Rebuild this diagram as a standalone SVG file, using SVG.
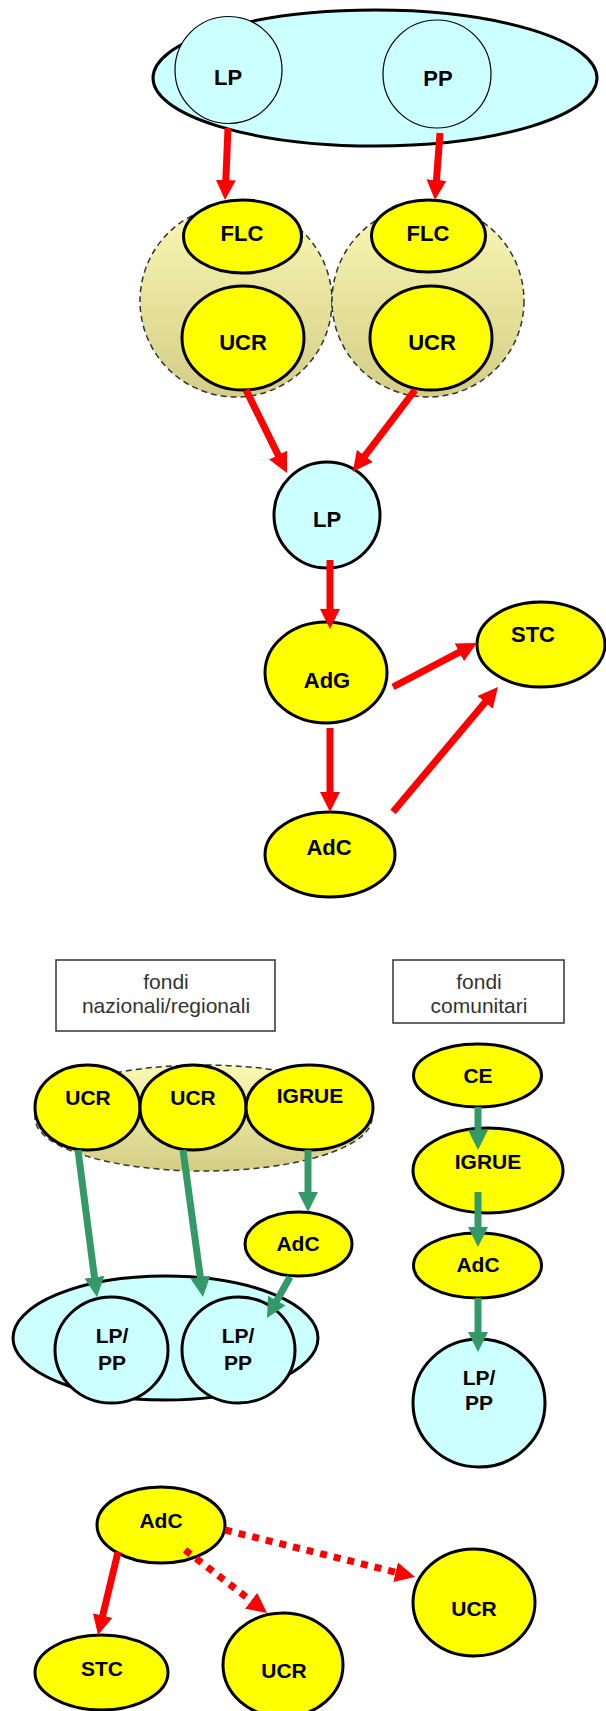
<svg xmlns="http://www.w3.org/2000/svg" width="606" height="1711" viewBox="0 0 606 1711">
<defs>
<linearGradient id="grp" x1="0" y1="0" x2="0" y2="1">
<stop offset="0" stop-color="#FAF8B4"/>
<stop offset="1" stop-color="#D3CD86"/>
</linearGradient>
<marker id="hr" markerUnits="userSpaceOnUse" markerWidth="22" markerHeight="22" viewBox="0 -11 22 22" refX="4" refY="0" orient="auto">
<path d="M0,-10 L20,0 L0,10 z" fill="#FF0000"/>
</marker>
<marker id="hg" markerUnits="userSpaceOnUse" markerWidth="22" markerHeight="22" viewBox="0 -11 22 22" refX="4" refY="0" orient="auto">
<path d="M0,-10 L20,0 L0,10 z" fill="#339966"/>
</marker>
</defs>
<style>
.y{fill:#FFFF00;stroke:#000;stroke-width:3}
.c{fill:#CCFFFF;stroke:#000;stroke-width:3}
.ct{fill:#CCFFFF;stroke:#000;stroke-width:1.2}
.g{fill:url(#grp);stroke:#333;stroke-width:1.5;stroke-dasharray:6 4}
.box{fill:#fff;stroke:#333;stroke-width:1.5}
.t{font-family:"Liberation Sans",Arial,sans-serif;font-weight:bold;font-size:22px;fill:#000;text-anchor:middle;dominant-baseline:central}
.s{font-size:21px}
.bt{font-family:"Liberation Sans",Arial,sans-serif;font-size:21px;fill:#333;text-anchor:middle}
.r{stroke:#FF0000;stroke-width:7;fill:none;marker-end:url(#hr)}
.rd{stroke:#FF0000;stroke-width:7;fill:none;stroke-dasharray:7 7;marker-end:url(#hr)}
.gr{stroke:#339966;stroke-width:7;fill:none;marker-end:url(#hg)}
</style>

<g id="top-group">
<ellipse cx="375" cy="78" rx="222" ry="68" class="c"/>
</g>
<g id="top-LP">
<circle cx="228.5" cy="70" r="53.5" class="ct"/>
<text x="228" y="77" class="t">LP</text>
</g>
<g id="top-PP">
<circle cx="437" cy="74" r="54" class="ct"/>
<text x="438" y="78" class="t">PP</text>
</g>

<g id="group-left">
<circle cx="236" cy="301" r="96" class="g"/>
</g>
<g id="group-right">
<circle cx="428" cy="301" r="96" class="g"/>
</g>
<g id="FLC-left">
<ellipse cx="242.5" cy="236.5" rx="59" ry="36.5" class="y"/>
<text x="242" y="233" class="t">FLC</text>
</g>
<g id="UCR-left">
<ellipse cx="243" cy="338" rx="61" ry="52" class="y"/>
<text x="243" y="342" class="t">UCR</text>
</g>
<g id="FLC-right">
<ellipse cx="428.5" cy="236" rx="57" ry="36" class="y"/>
<text x="428" y="233" class="t">FLC</text>
</g>
<g id="UCR-right">
<ellipse cx="431" cy="338" rx="61" ry="52" class="y"/>
<text x="432" y="342" class="t">UCR</text>
</g>

<g id="LP-mid">
<circle cx="327" cy="515" r="53" class="c"/>
<text x="327" y="519" class="t">LP</text>
</g>
<g id="AdG">
<ellipse cx="326" cy="672.5" rx="61" ry="50.5" class="y"/>
<text x="327" y="680" class="t">AdG</text>
</g>
<g id="STC-top">
<ellipse cx="541" cy="644.5" rx="64" ry="42.5" class="y"/>
<text x="533" y="634" class="t">STC</text>
</g>
<g id="AdC-top">
<ellipse cx="330" cy="854.5" rx="65" ry="42.5" class="y"/>
<text x="329" y="847" class="t">AdC</text>
</g>

<g id="box-naz">
<rect x="56" y="960" width="219" height="71" class="box"/>
<text x="166" y="989" class="bt">fondi</text>
<text x="166" y="1013" class="bt">nazionali/regionali</text>
</g>
<g id="box-com">
<rect x="393" y="960" width="171" height="63" class="box"/>
<text x="479" y="989" class="bt">fondi</text>
<text x="479" y="1013" class="bt">comunitari</text>
</g>

<g id="group-low">
<ellipse cx="203.5" cy="1118" rx="168.5" ry="53" class="g"/>
</g>
<g id="UCR-1">
<ellipse cx="87.5" cy="1107.5" rx="52.5" ry="42.5" class="y"/>
<text x="88" y="1097" class="t s">UCR</text>
</g>
<g id="UCR-2">
<ellipse cx="193" cy="1107.5" rx="53" ry="42.5" class="y"/>
<text x="193" y="1097" class="t s">UCR</text>
</g>
<g id="IGRUE-left">
<ellipse cx="309.5" cy="1107.5" rx="63.5" ry="42.5" class="y"/>
<text x="310" y="1095" class="t s">IGRUE</text>
</g>
<g id="AdC-left">
<ellipse cx="298.5" cy="1244" rx="53.5" ry="32" class="y"/>
<text x="298" y="1243" class="t s">AdC</text>
</g>
<g id="LPPP-group">
<ellipse cx="165.5" cy="1338" rx="152.5" ry="62" class="c"/>
</g>
<g id="LPPP-1">
<ellipse cx="111.5" cy="1350" rx="56.5" ry="53" class="c"/>
<text x="112" y="1335" class="t s">LP/</text>
<text x="112" y="1362" class="t s">PP</text>
</g>
<g id="LPPP-2">
<ellipse cx="238.5" cy="1350" rx="56.5" ry="53" class="c"/>
<text x="238" y="1335" class="t s">LP/</text>
<text x="238" y="1362" class="t s">PP</text>
</g>

<g id="CE">
<ellipse cx="477.5" cy="1075.5" rx="64" ry="31.5" class="y"/>
<text x="478" y="1075" class="t s">CE</text>
</g>
<g id="IGRUE-right">
<ellipse cx="488" cy="1170.5" rx="75" ry="42.5" class="y"/>
<text x="488" y="1161" class="t s">IGRUE</text>
</g>
<g id="AdC-right">
<ellipse cx="477.5" cy="1265.5" rx="64" ry="32.5" class="y"/>
<text x="478" y="1264" class="t s">AdC</text>
</g>
<g id="LPPP-right">
<ellipse cx="479" cy="1403" rx="66" ry="64" class="c"/>
<text x="479" y="1377" class="t s">LP/</text>
<text x="479" y="1402" class="t s">PP</text>
</g>

<g id="AdC-bottom">
<ellipse cx="161" cy="1525" rx="64" ry="38" class="y"/>
<text x="161" y="1520" class="t s">AdC</text>
</g>
<g id="STC-bottom">
<ellipse cx="101.5" cy="1672.5" rx="66.5" ry="37.5" class="y"/>
<text x="102" y="1668" class="t s">STC</text>
</g>
<g id="UCR-mid">
<ellipse cx="283" cy="1665" rx="60" ry="52" class="y"/>
<text x="284" y="1670" class="t s">UCR</text>
</g>
<g id="UCR-far">
<ellipse cx="474" cy="1602.5" rx="61" ry="53.5" class="y"/>
<text x="474" y="1608" class="t s">UCR</text>
</g>

<g id="connectors">
<line x1="228" y1="128" x2="225.67" y2="184.01" class="r"/>
<line x1="440" y1="133" x2="436.19" y2="184.04" class="r"/>
<line x1="246" y1="390" x2="279.91" y2="458.65" class="r"/>
<line x1="415" y1="390" x2="362.45" y2="459.09" class="r"/>
<line x1="330" y1="560" x2="330" y2="613" class="r"/>
<line x1="393" y1="687" x2="462.83" y2="650.42" class="r"/>
<line x1="330" y1="728" x2="330" y2="796" class="r"/>
<line x1="393" y1="812" x2="487.71" y2="699.25" class="r"/>

<line x1="78" y1="1150" x2="94.95" y2="1281.13" class="gr"/>
<line x1="183" y1="1150" x2="200.84" y2="1281.15" class="gr"/>
<line x1="308" y1="1150" x2="308" y2="1196" class="gr"/>
<line x1="290" y1="1277" x2="274.83" y2="1304.04" class="gr"/>
<line x1="478" y1="1107" x2="478" y2="1134" class="gr"/>
<line x1="478" y1="1192" x2="478" y2="1231" class="gr"/>
<line x1="478" y1="1298" x2="478" y2="1336" class="gr"/>

<line x1="118" y1="1552" x2="101.75" y2="1619.45" class="r"/>
<line x1="185" y1="1550" x2="254.31" y2="1603.25" class="rd"/>
<line x1="225" y1="1530" x2="399.47" y2="1573.16" class="rd"/>
</g>
</svg>
